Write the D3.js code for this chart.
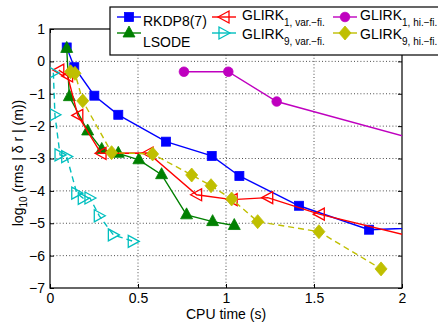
<!DOCTYPE html>
<html>
<head>
<meta charset="utf-8">
<script src="https://cdn.jsdelivr.net/npm/d3@7"></script>
<style>
  html, body { margin: 0; padding: 0; background: #fff; }
  svg { display: block; font-family: "Liberation Sans", Arial, Helvetica, sans-serif; }
</style>
</head>
<body>
<svg id="chart" width="438" height="323"></svg>
<script>
// CPU time (s) vs log10 of rms position error for each integrator
const rkdpTime   = [0.095, 0.138, 0.252, 0.388, 0.659, 0.919, 1.076, 1.415, 1.813, 2.3];
const rkdpErr    = [0.43, -0.18, -1.06, -1.65, -2.48, -2.92, -3.54, -4.46, -5.20, -5.10];

const lsodeTime  = [0.095, 0.110, 0.214, 0.294, 0.388, 0.505, 0.634, 0.776, 0.924, 1.047];
const lsodeErr   = [0.40, -1.09, -2.15, -2.72, -2.84, -3.04, -3.50, -4.74, -4.95, -5.07];

const g1varTime  = [0.050, 0.100, 0.158, 0.290, 0.557, 0.833, 1.035, 1.237, 1.530, 2.3];
const g1varErr   = [-0.27, -0.45, -1.67, -2.84, -2.83, -4.12, -4.27, -4.21, -4.72, -5.74];

const g9varTime  = [0.019, 0.028, 0.057, 0.095, 0.152, 0.189, 0.227, 0.280, 0.360, 0.473];
const g9varErr   = [-0.35, -1.65, -2.89, -2.94, -4.07, -4.23, -4.22, -4.77, -5.36, -5.56];

const g1hiTime   = [0.761, 1.013, 1.288, 2.5];
const g1hiErr    = [-0.32, -0.32, -1.24, -3.04];

const g9hiTime   = [0.117, 0.142, 0.186, 0.350, 0.583, 0.805, 0.915, 1.032, 1.180, 1.528, 1.881];
const g9hiErr    = [-0.32, -0.37, -1.22, -2.82, -2.86, -3.51, -3.84, -4.25, -4.95, -5.26, -6.41];

const xTicks = [0, 0.5, 1, 1.5, 2];
const xTickLabels = ["0", "0.5", "1", "1.5", "2"];
const yTicks = [1, 0, -1, -2, -3, -4, -5, -6, -7];

const series = [
  { name: "RKDP8(7)", sub: null, x: rkdpTime, y: rkdpErr, color: "#0000ff", marker: "square", dash: null },
  { name: "LSODE", sub: null, x: lsodeTime, y: lsodeErr, color: "#008000", marker: "triUp", dash: null },
  { name: "GLIRK", sub: "1, var.\u2212fi.", x: g1varTime, y: g1varErr, color: "#ff0000", marker: "triLeft", dash: null },
  { name: "GLIRK", sub: "9, var.\u2212fi.", x: g9varTime, y: g9varErr, color: "#00bfbf", marker: "triRight", dash: "6,4" },
  { name: "GLIRK", sub: "1, hi.\u2212fi.", x: g1hiTime, y: g1hiErr, color: "#bf00bf", marker: "circle", dash: null },
  { name: "GLIRK", sub: "9, hi.\u2212fi.", x: g9hiTime, y: g9hiErr, color: "#bfbf00", marker: "diamond", dash: "6,4" }
];

const svg = d3.select("#chart");
const pLeft = 50, pRight = 402, pTop = 29, pBottom = 288;
const W = pRight - pLeft, H = pBottom - pTop;

const x = d3.scaleLinear().domain([0, 2]).range([pLeft, pRight]);
const y = d3.scaleLinear().domain([-7, 1]).range([pBottom, pTop]);

// dotted grid
const grid = svg.append("g").attr("stroke", "#000").attr("stroke-width", 0.7)
  .attr("stroke-dasharray", "1,2.2");
xTicks.slice(1, -1).forEach(t => grid.append("line")
  .attr("x1", x(t)).attr("x2", x(t)).attr("y1", pTop).attr("y2", pBottom));
yTicks.slice(1, -1).forEach(t => grid.append("line")
  .attr("x1", pLeft).attr("x2", pRight).attr("y1", y(t)).attr("y2", y(t)));

// axes with inward ticks
const font = "14px";
const ax = svg.append("g").attr("transform", `translate(0,${pBottom})`)
  .call(d3.axisBottom(x).tickValues(xTicks).tickFormat((d, i) => xTickLabels[i])
    .tickSizeInner(-4).tickSizeOuter(0).tickPadding(5));
const axTop = svg.append("g").attr("transform", `translate(0,${pTop})`)
  .call(d3.axisTop(x).tickValues(xTicks).tickFormat("").tickSizeInner(-4).tickSizeOuter(0));
const ay = svg.append("g").attr("transform", `translate(${pLeft},0)`)
  .call(d3.axisLeft(y).tickValues(yTicks).tickFormat(d => d < 0 ? "\u2212" + Math.abs(d) : d)
    .tickSizeInner(-4).tickSizeOuter(0).tickPadding(5));
const ayR = svg.append("g").attr("transform", `translate(${pRight},0)`)
  .call(d3.axisRight(y).tickValues(yTicks).tickFormat("").tickSizeInner(-4).tickSizeOuter(0));
[ax, axTop, ay, ayR].forEach(g => {
  g.select(".domain").remove();
  g.selectAll("line").attr("stroke", "#000").attr("stroke-width", 1);
  g.selectAll("text").attr("font-size", font).attr("fill", "#000")
    .style("font-family", "'Liberation Sans', Arial, Helvetica, sans-serif");
});
ax.selectAll("text").attr("dy", "0.71em");

// plot frame
svg.append("rect").attr("x", pLeft).attr("y", pTop).attr("width", W).attr("height", H)
  .attr("fill", "none").attr("stroke", "#000").attr("stroke-width", 1.2);

// axis titles
svg.append("text").attr("x", (pLeft + pRight) / 2).attr("y", 319).attr("text-anchor", "middle")
  .attr("font-size", font).text("CPU time (s)");
const yl = svg.append("text").attr("transform", `translate(23,163) rotate(-90)`)
  .attr("text-anchor", "middle").attr("font-size", font);
yl.append("tspan").text("log");
yl.append("tspan").attr("font-size", "10px").attr("dy", 4).text("10");
yl.append("tspan").attr("dy", -4).text(" (rms | \u03b4 r | (m))");

// markers
function drawMarker(g, type, cx, cy, color) {
  switch (type) {
    case "square":
      g.append("rect").attr("x", cx - 4.5).attr("y", cy - 4.5).attr("width", 9).attr("height", 9)
        .attr("fill", color).attr("stroke", color).attr("stroke-width", 0.8); break;
    case "triUp":
      g.append("path").attr("d", `M${cx},${cy - 7}L${cx + 6},${cy + 4}L${cx - 6},${cy + 4}Z`)
        .attr("fill", color).attr("stroke", color).attr("stroke-width", 0.8); break;
    case "triLeft":
      g.append("path").attr("d", `M${cx - 6},${cy}L${cx + 5},${cy - 6}L${cx + 5},${cy + 6}Z`)
        .attr("fill", "none").attr("stroke", color).attr("stroke-width", 1.3); break;
    case "triRight":
      g.append("path").attr("d", `M${cx + 6},${cy}L${cx - 5},${cy - 6}L${cx - 5},${cy + 6}Z`)
        .attr("fill", "none").attr("stroke", color).attr("stroke-width", 1.3); break;
    case "circle":
      g.append("circle").attr("cx", cx).attr("cy", cy).attr("r", 4.8)
        .attr("fill", color).attr("stroke", color).attr("stroke-width", 0.8); break;
    case "diamond":
      g.append("path").attr("d", `M${cx},${cy - 7}L${cx + 6},${cy}L${cx},${cy + 7}L${cx - 6},${cy}Z`)
        .attr("fill", color).attr("stroke", color).attr("stroke-width", 0.8); break;
  }
}

svg.append("defs").append("clipPath").attr("id", "plotclip").append("rect")
  .attr("x", pLeft).attr("y", pTop).attr("width", W).attr("height", H);
const plot = svg.append("g").attr("clip-path", "url(#plotclip)");
const line = d3.line().x(d => x(d[0])).y(d => y(d[1]));

series.forEach(s => {
  const pts = s.x.map((v, i) => [v, s.y[i]]);
  plot.append("path").attr("d", line(pts)).attr("fill", "none").attr("stroke", s.color)
    .attr("stroke-width", 1.4).attr("stroke-dasharray", s.dash);
  const mg = plot.append("g");
  pts.forEach(p => drawMarker(mg, s.marker, x(p[0]), y(p[1]), s.color));
});

// legend
const lg = svg.append("g");
lg.append("rect").attr("x", 110).attr("y", 7).attr("width", 340).attr("height", 48)
  .attr("fill", "#fff").attr("stroke", "#000").attr("stroke-width", 1.2);
const cols = [{ lx: 129, tx: 143 }, { lx: 224, tx: 242 }, { lx: 345, tx: 360 }];
const rowMarkY = [17, 33];
series.forEach((s, i) => {
  const col = cols[Math.floor(i / 2)], row = i % 2;
  const my = rowMarkY[row];
  lg.append("line").attr("x1", col.lx - 12).attr("x2", col.lx + 12).attr("y1", my).attr("y2", my)
    .attr("stroke", s.color).attr("stroke-width", 1.4);
  drawMarker(lg, s.marker, col.lx, my, s.color);
  if (s.sub) {
    const base = row === 0 ? 20 : 39;
    const t = lg.append("text").attr("x", col.tx).attr("y", base).attr("font-size", font);
    t.append("tspan").text(s.name);
    t.append("tspan").attr("font-size", "10px").attr("dy", 6).text(s.sub);
  } else {
    lg.append("text").attr("x", col.tx).attr("y", row === 0 ? 26 : 47)
      .attr("font-size", font).text(s.name);
  }
});
</script>
</body>
</html>
